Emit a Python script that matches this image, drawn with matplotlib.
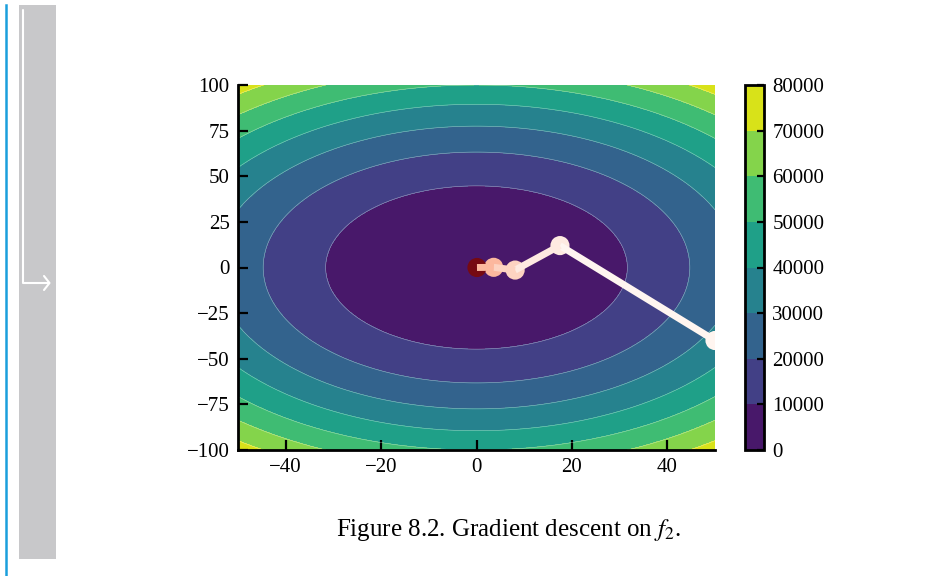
import numpy as np
import matplotlib
matplotlib.use("Agg")
from matplotlib import pyplot as plt
from matplotlib.collections import LineCollection
from matplotlib.lines import Line2D
from matplotlib.patches import Rectangle

plt.rcParams['font.family'] = ['Liberation Serif', 'DejaVu Serif']
plt.rcParams['mathtext.fontset'] = 'stix'

# f2(x, y) = a*x^2 + b*y^2
coef_x = 10.0
coef_y = 5.0
levels = [0, 10000, 20000, 30000, 40000, 50000, 60000, 70000, 80000]

# gradient descent iterates
path_x = [50.0, 17.5, 8.1, 3.6, 0.1]
path_y = [-40.0, 12.0, -1.4, 0.1, 0.0]
path_colors = ['#fff5f0', '#feeae1', '#fdd3c1', '#fcb89e', '#760a12']

x_ticks = [-40, -20, 0, 20, 40]
y_ticks = [-100, -75, -50, -25, 0, 25, 50, 75, 100]

W, H = 952, 576
fig = plt.figure(figsize=(W / 100, H / 100), dpi=100)


def fx(p):
    return p / W


def fy(p):
    return 1 - p / H


# page decoration on the left
fig.add_artist(Line2D([fx(5.5), fx(5.5)], [fy(5), fy(576)], color='#1a9fdc', lw=1.8))
fig.add_artist(Rectangle((fx(19), fy(559)), fx(56) - fx(19), fy(5) - fy(559),
                         transform=fig.transFigure, color='#c8c8ca', lw=0))
arrow_kw = dict(color='white', lw=1.5, solid_capstyle='round', solid_joinstyle='round')
fig.add_artist(Line2D([fx(23), fx(23), fx(49)], [fy(10), fy(283), fy(283)], **arrow_kw))
fig.add_artist(Line2D([fx(44), fx(49.5), fx(44)], [fy(276), fy(283), fy(290)], **arrow_kw))

ax = fig.add_axes([fx(238), fy(450), fx(715) - fx(238), fy(85) - fy(450)])
cax = fig.add_axes([fx(745), fy(450), fx(764) - fx(745), fy(85) - fy(450)])

xs = np.linspace(-50, 50, 400)
ys = np.linspace(-100, 100, 400)
X, Y = np.meshgrid(xs, ys)
Z = coef_x * X ** 2 + coef_y * Y ** 2

cf = ax.contourf(X, Y, Z, levels=levels, cmap='viridis')
ax.contour(X, Y, Z, levels=levels[1:-1], colors='white', linewidths=0.4, alpha=0.5)

pts = np.column_stack([path_x, path_y])
segs = [pts[i:i + 2] for i in range(len(pts) - 1)]
ax.scatter(path_x, path_y, s=190, c=path_colors, zorder=3, linewidths=0)
ax.add_collection(LineCollection(segs, colors=path_colors[:-1], linewidths=5, zorder=4))

ax.set_xlim(-50, 50)
ax.set_ylim(-100, 100)
ax.set_xticks(x_ticks)
ax.set_yticks(y_ticks)
for side in ['top', 'right']:
    ax.spines[side].set_visible(False)
for side in ['left', 'bottom']:
    ax.spines[side].set_linewidth(2)
ax.tick_params(direction='in', length=7, width=1.6, labelsize=15, pad=6)

cb = fig.colorbar(cf, cax=cax)
cb.set_ticks(levels)
cb.outline.set_linewidth(2)
cb.ax.tick_params(direction='in', length=5, width=1.6, labelsize=15, pad=6)

fig.text(fx(508), fy(530), 'Figure 8.2. Gradient descent on $f_2$.',
         ha='center', va='center', fontsize=18)

plt.savefig('out.png', dpi=100)
